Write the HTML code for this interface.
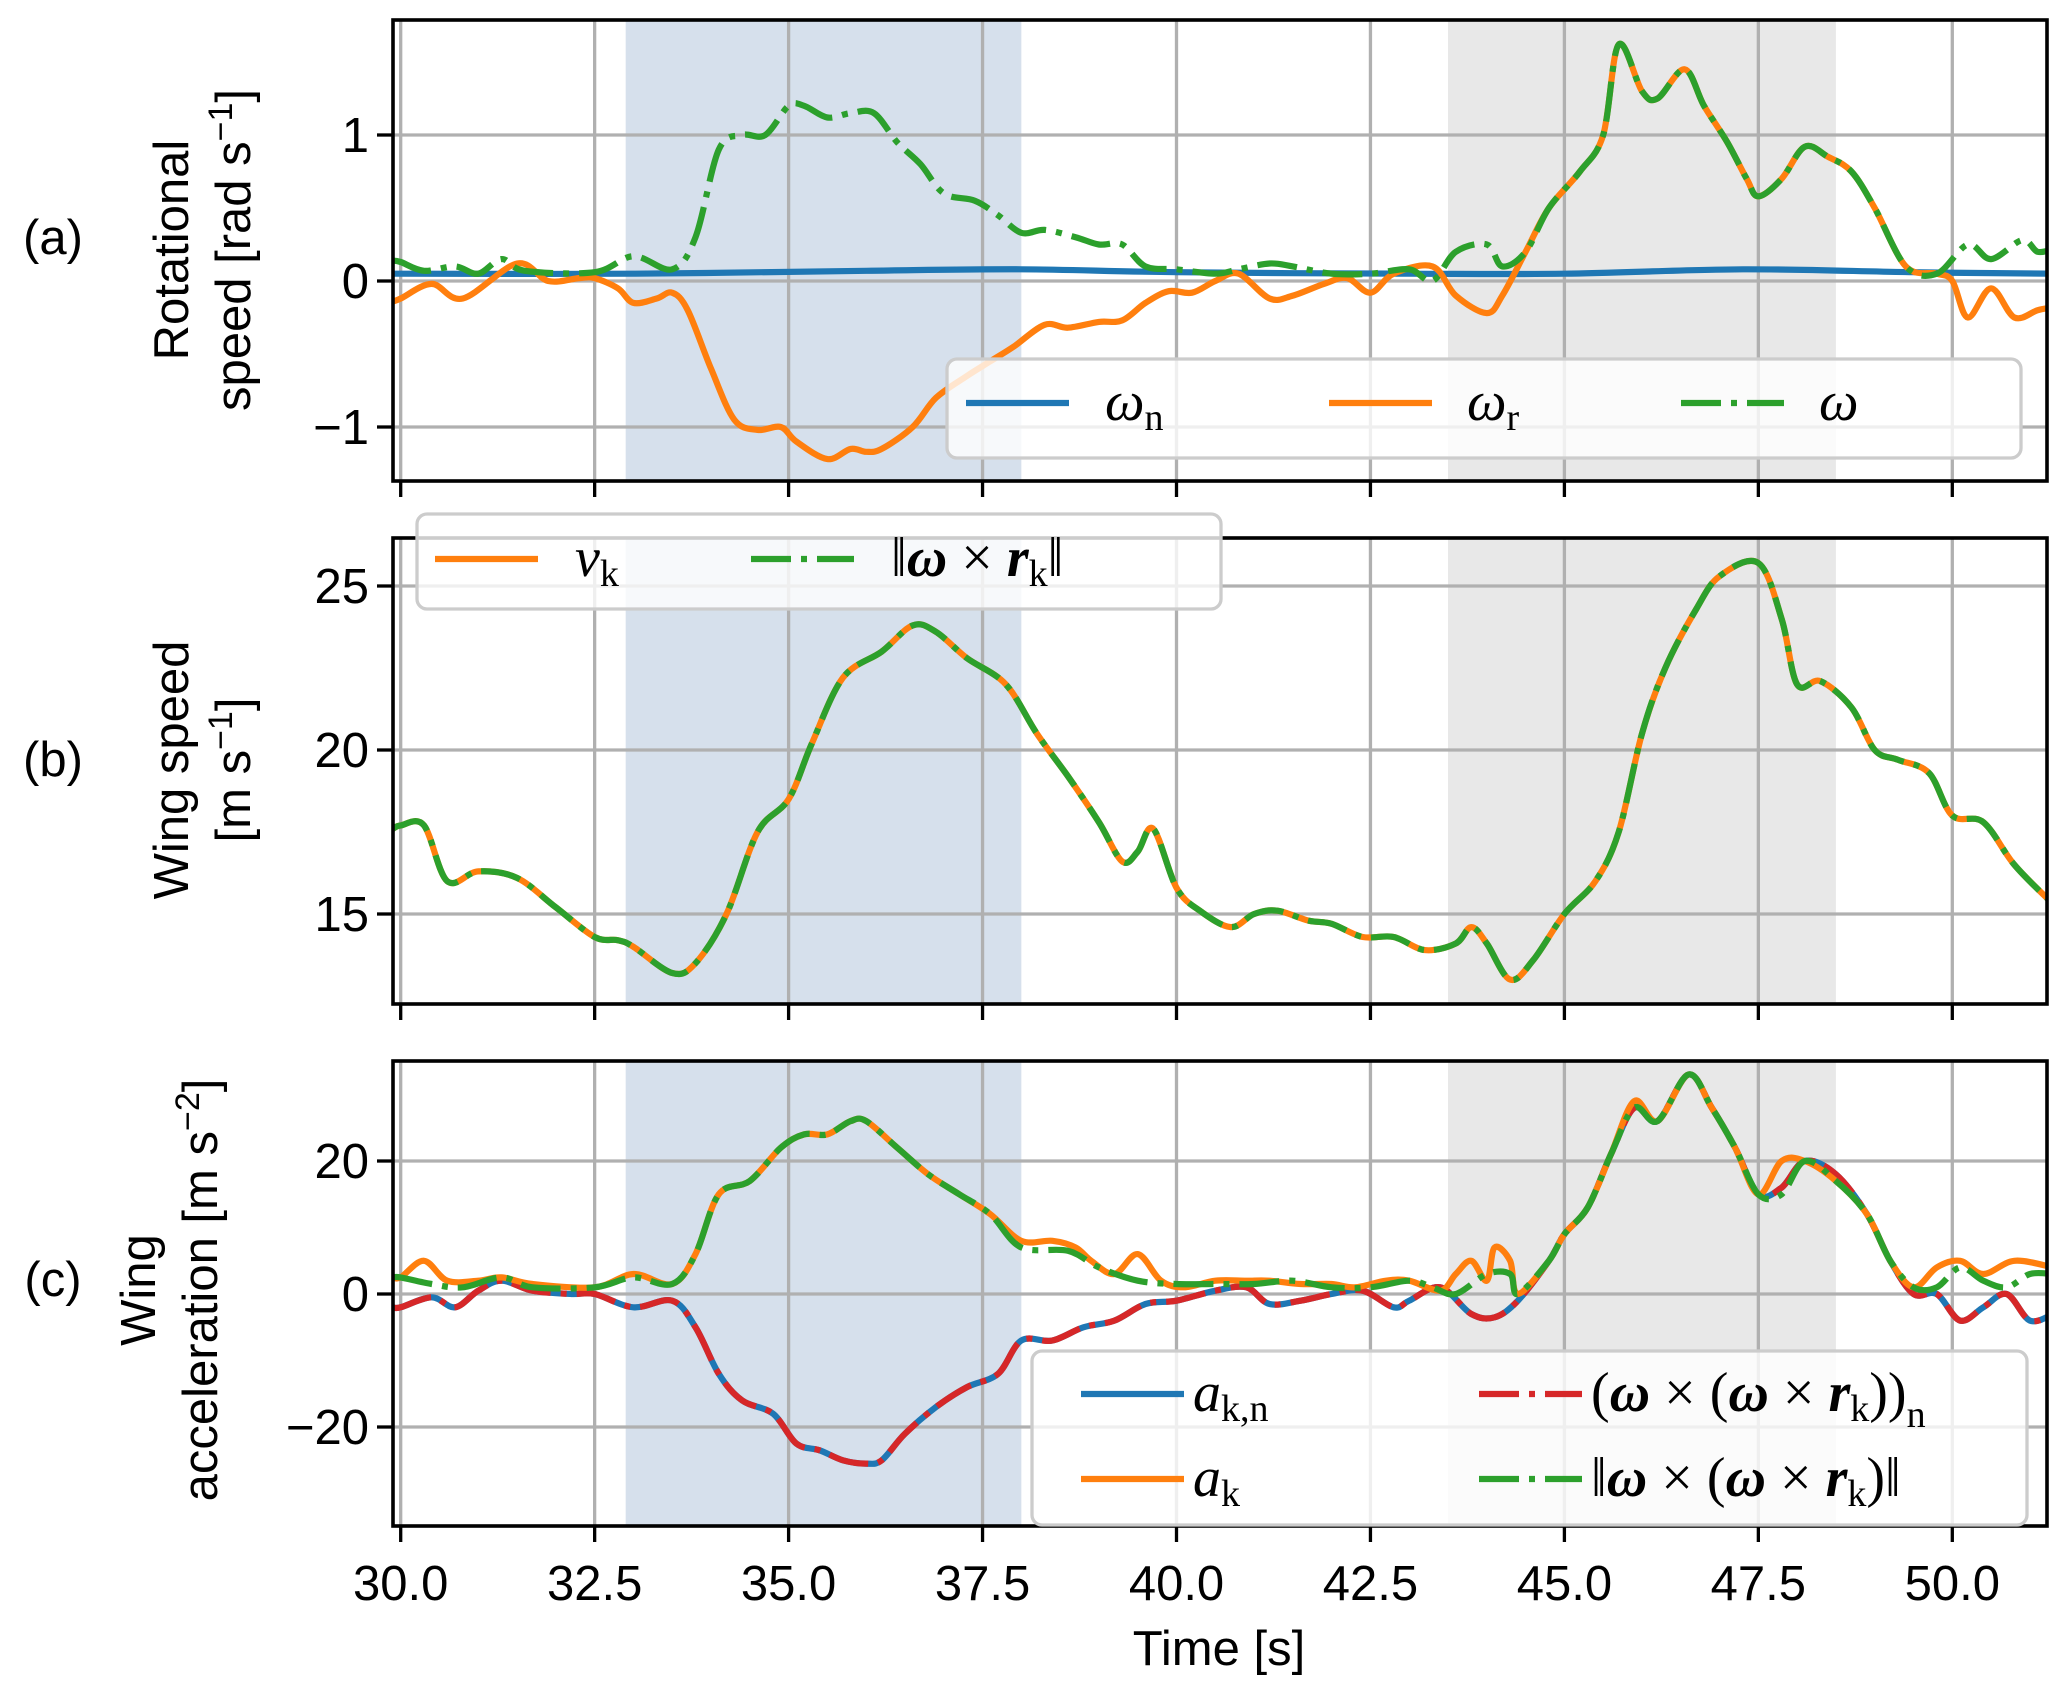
<!DOCTYPE html>
<html><head><meta charset="utf-8">
<style>
html,body{margin:0;padding:0;background:#fff;}
svg{display:block;font-family:"Liberation Sans",sans-serif;}
.tick{font-size:49px;fill:#000;}
.math{font-family:"Liberation Serif",serif;font-size:56px;}
</style></head>
<body>
<svg id="chart" width="2067" height="1691" viewBox="0 0 2067 1691" xmlns="http://www.w3.org/2000/svg">
</svg>
<script>
// ---------- data ----------
const xTicks = [30.0, 32.5, 35.0, 37.5, 40.0, 42.5, 45.0, 47.5, 50.0];
const xTickLabels = ["30.0","32.5","35.0","37.5","40.0","42.5","45.0","47.5","50.0"];
const blueSpan = [32.9, 38.0];
const graySpan = [43.5, 48.5];

const aTicks = [-1, 0, 1];
const aTickLabels = ["\u22121","0","1"];
const omegaNT = [29.9,33,36,38,40,43,45,47.3,49.5,51.3];
const omegaN  = [0.05,0.05,0.07,0.08,0.06,0.05,0.05,0.08,0.06,0.05];
const omegaRT = [29.9,30.0,30.4,30.8,31.5,31.9,32.3,32.5,32.8,33.0,33.3,33.5,33.7,34.0,34.3,34.6,34.9,35.1,35.5,35.8,36.0,36.2,36.6,36.9,37.3,37.6,37.9,38.3,38.6,39.0,39.3,39.6,39.9,40.2,40.5,40.8,41.2,41.5,41.9,42.2,42.5,42.8,43.3,43.6,44.0,44.2,44.5,44.8,45.2,45.5,45.7,46.0,46.2,46.55,46.8,47.1,47.35,47.5,47.8,48.1,48.4,48.7,49.0,49.4,49.8,50.0,50.2,50.5,50.8,51.1,51.3];
const omegaR  = [-0.14,-0.12,-0.02,-0.12,0.12,0.0,0.02,0.02,-0.05,-0.15,-0.12,-0.08,-0.2,-0.6,-0.95,-1.02,-1.0,-1.1,-1.22,-1.15,-1.17,-1.15,-1.0,-0.8,-0.65,-0.55,-0.45,-0.3,-0.32,-0.28,-0.27,-0.15,-0.07,-0.08,0.0,0.05,-0.12,-0.1,-0.02,0.02,-0.08,0.05,0.1,-0.1,-0.22,-0.1,0.2,0.5,0.75,1.0,1.62,1.3,1.25,1.45,1.2,0.95,0.7,0.58,0.7,0.92,0.85,0.75,0.5,0.1,0.05,0.0,-0.25,-0.05,-0.25,-0.2,-0.18];
const omegaT  = [29.9,30.0,30.3,30.7,31.0,31.3,31.6,32.5,33.0,33.5,33.8,34.1,34.4,34.7,35.0,35.2,35.5,35.8,36.1,36.4,36.7,37.0,37.4,37.7,38.0,38.3,38.7,39.0,39.3,39.6,40.0,40.5,40.8,41.2,41.5,42.0,42.5,43.0,43.3,43.6,44.0,44.2,44.5,44.8,45.2,45.5,45.7,46.0,46.2,46.55,46.8,47.1,47.35,47.5,47.8,48.1,48.4,48.7,49.0,49.4,49.8,50.2,50.5,50.9,51.1,51.3];
const omega   = [0.14,0.13,0.07,0.1,0.05,0.15,0.07,0.06,0.17,0.08,0.3,0.9,1.0,1.0,1.2,1.2,1.12,1.15,1.15,0.95,0.8,0.6,0.55,0.45,0.33,0.35,0.3,0.25,0.25,0.1,0.08,0.05,0.08,0.12,0.1,0.05,0.05,0.08,0.0,0.2,0.25,0.1,0.2,0.5,0.75,1.0,1.62,1.3,1.25,1.45,1.2,0.95,0.7,0.58,0.7,0.92,0.85,0.75,0.5,0.1,0.05,0.25,0.15,0.28,0.2,0.22];

const bTicks = [15, 20, 25];
const bTickLabels = ["15","20","25"];
const vkT = [29.9,30.0,30.3,30.6,31.0,31.5,32.0,32.5,32.8,33.0,33.5,33.8,34.2,34.6,35.0,35.3,35.7,36.2,36.6,36.9,37.3,37.8,38.2,38.6,39.0,39.3,39.5,39.7,40.0,40.3,40.7,41.0,41.3,41.7,42.0,42.4,42.8,43.2,43.6,43.8,44.0,44.3,44.6,45.0,45.4,45.7,46.0,46.3,46.7,47.0,47.5,47.8,48.0,48.3,48.7,49.0,49.3,49.7,50.0,50.4,50.8,51.3];
const vk  = [17.6,17.7,17.7,16.0,16.3,16.1,15.2,14.3,14.2,14.0,13.2,13.5,15.0,17.5,18.5,20.2,22.2,23.0,23.8,23.6,22.8,22.0,20.5,19.2,17.8,16.6,16.9,17.6,15.8,15.1,14.6,15.0,15.1,14.8,14.7,14.3,14.3,13.9,14.1,14.6,14.1,13.0,13.6,15.0,16.0,17.5,20.5,22.5,24.3,25.3,25.7,24.0,22.0,22.1,21.3,20.0,19.7,19.3,18.0,17.8,16.5,15.3];

const cTicks = [-20, 0, 20];
const cTickLabels = ["\u221220","0","20"];
const aknT = [29.9,30.0,30.4,30.7,31.0,31.3,31.7,32.2,32.5,33.0,33.5,33.8,34.1,34.4,34.8,35.1,35.4,35.7,36.0,36.2,36.5,36.9,37.3,37.7,38.0,38.4,38.8,39.2,39.6,40.0,40.5,40.9,41.2,41.6,42.0,42.4,42.8,43.0,43.4,43.8,44.1,44.4,44.8,45.0,45.3,45.6,45.9,46.2,46.6,46.9,47.2,47.5,47.8,48.1,48.5,48.9,49.2,49.5,49.8,50.1,50.4,50.7,51.0,51.3];
const akn  = [-2,-2,-0.5,-2,0.5,2,0.5,0,0,-2,-1,-5,-12,-16,-18,-22.5,-23.5,-25,-25.5,-25,-21,-17,-14,-12,-7,-7,-5,-4,-1.5,-1,0.5,1,-1.5,-1,0,0.5,-2,-1,1,-3,-3.5,-1,5,9,13,21,28,26,33,28,22,15,16,20,18,12,5,0,0,-4,-2,0,-4,-3];
const akT = [29.9,30.0,30.3,30.6,31.0,31.3,31.7,32.5,33.0,33.5,33.8,34.1,34.5,34.9,35.2,35.5,35.8,36.0,36.4,36.8,37.2,37.6,38.0,38.4,38.7,38.9,39.2,39.5,39.8,40.1,40.5,40.9,41.2,41.6,42.0,42.3,42.7,43.0,43.4,43.6,43.8,44.0,44.1,44.3,44.4,44.8,45.0,45.3,45.6,45.9,46.2,46.6,46.9,47.2,47.5,47.8,48.1,48.5,48.9,49.2,49.5,49.8,50.1,50.4,50.8,51.3];
const ak  = [2.5,2.5,5,2,2,2.5,1.5,1,3,1.5,6,15,17,22,24,24,26,26,22,18,15,12,8,8,7,5,3,6,2,1,2,2,2,1.5,1.5,1,2,2,0.5,3,5,2,7,5,0,5,9,13,21,29,26,33,28,22,15,20,20,17,12,5,1,4,5,3,5,4];
const awT = [29.9,30.0,30.4,30.8,31.3,31.7,32.5,33.0,33.5,33.8,34.1,34.5,34.9,35.2,35.5,35.8,36.0,36.4,36.8,37.2,37.6,38.0,38.6,39.0,39.5,40.0,40.5,41.0,41.5,42.0,42.5,43.0,43.3,43.6,44.0,44.3,44.4,44.8,45.0,45.3,45.6,45.9,46.2,46.6,46.9,47.2,47.5,47.8,48.1,48.5,48.9,49.2,49.5,49.8,50.1,50.4,50.7,51.0,51.3];
const aw  = [2.5,2.5,1.5,1,2.5,1,1,2.5,1.5,6,15,17,22,24,24,26,26,22,18,15,12,7,6.5,4,2,1.5,1.5,1.5,2,1,1,2,1,0,3,3,0,5,9,13,21,28,26,33,28,22,15,15,20,17,12,5,1,1,4,2,1,3,3];

// ---------- layout ----------
const X0 = 400.7, XS = 77.58;
const xS = t => X0 + (t - 30) * XS;
const L = 393, R = 2047;
const panels = {
  a: {top:20, bot:481, y:v => 281 - v*146},
  b: {top:538, bot:1004, y:v => 750 - (v-20)*32.8},
  c: {top:1061, bot:1526, y:v => 1294 - v*6.65}
};
const C = {blue:"#1f77b4", orange:"#ff7f0e", green:"#2ca02c", red:"#d62728"};
const LW = 6.2;
const DD = "40,10,6,10";
const svg = document.getElementById("chart");
const NS = "http://www.w3.org/2000/svg";
function mk(tag, attrs, parent){
  const e = document.createElementNS(NS, tag);
  for (const k in attrs) e.setAttribute(k, attrs[k]);
  (parent||svg).appendChild(e); return e;
}
function pathD(ts, vs, yf){
  const p = ts.map((t,i)=>[xS(t), yf(vs[i])]);
  let d = "M"+p[0][0].toFixed(1)+","+p[0][1].toFixed(1);
  for (let i=0;i<p.length-1;i++){
    const p0=p[Math.max(i-1,0)], p1=p[i], p2=p[i+1], p3=p[Math.min(i+2,p.length-1)];
    const c1=[p1[0]+(p2[0]-p0[0])/6, p1[1]+(p2[1]-p0[1])/6];
    const c2=[p2[0]-(p3[0]-p1[0])/6, p2[1]-(p3[1]-p1[1])/6];
    d+=" C"+c1.map(v=>v.toFixed(1)).join(",")+" "+c2.map(v=>v.toFixed(1)).join(",")+" "+p2.map(v=>v.toFixed(1)).join(",");
  }
  return d;
}

function drawPanel(key, yTicks, yLabels){
  const P = panels[key];
  const g = mk("g", {});
  
  
  const clipId = "clip"+key;
  const cp = mk("clipPath", {id:clipId}, g);
  mk("rect", {x:L, y:P.top, width:R-L, height:P.bot-P.top}, cp);
  const sb = mk("rect", {x:xS(blueSpan[0]), y:P.top, width:xS(blueSpan[1])-xS(blueSpan[0]), height:P.bot-P.top, fill:"#d6e0ec"}, g);
  
  
  const sg = mk("rect", {x:xS(graySpan[0]), y:P.top, width:xS(graySpan[1])-xS(graySpan[0]), height:P.bot-P.top, fill:"#e8e8e8"}, g);
  
  
  xTicks.forEach((t)=>{
    const gl = mk("line", {x1:xS(t), x2:xS(t), y1:P.top, y2:P.bot, stroke:"#b0b0b0", "stroke-width":3.3}, g);
    
    
    const tk = mk("line", {x1:xS(t), x2:xS(t), y1:P.bot, y2:P.bot+16, stroke:"#000", "stroke-width":3.3}, g);
    
    
  });
  yTicks.forEach((v,i)=>{
    const y = P.y(v);
    const gl = mk("line", {x1:L, x2:R, y1:y, y2:y, stroke:"#b0b0b0", "stroke-width":3.3}, g);
    
    
    const tk = mk("line", {x1:L-16, x2:L, y1:y, y2:y, stroke:"#000", "stroke-width":3.3}, g);
    
    
    const tl = mk("text", {x:L-24, y:y+17, "text-anchor":"end", class:"tick"}, g);
    tl.textContent = yLabels[i];
    
    
  });
  const lines = mk("g", {"clip-path":"url(#"+clipId+")"}, g);
  return {g, lines, P};
}
function series(parent, ts, vs, yf, color, dash, name){
  const a = {d:pathD(ts,vs,yf), fill:"none", stroke:color, "stroke-width":LW, "stroke-linejoin":"round"};
  if (dash) a["stroke-dasharray"] = dash;
  const p = mk("path", a, parent);
  
  
  return p;
}
function frame(g,P){
  const f = mk("rect", {x:L, y:P.top, width:R-L, height:P.bot-P.top, fill:"none", stroke:"#000", "stroke-width":3.6}, g);
  
  
}
function legendBox(x,y,w,h,name){
  const r = mk("rect", {x:x, y:y, width:w, height:h, rx:10, fill:"rgba(255,255,255,0.8)", stroke:"#cccccc", "stroke-width":3.3});
  
  
}
function legLine(x,y,color,dash,name){
  const a = {x1:x, x2:x+103, y1:y, y2:y, stroke:color, "stroke-width":LW};
  if (dash) a["stroke-dasharray"]=dash;
  const l = mk("line", a);
  
  
}
function legText(x,y,html,name){
  const t = mk("text", {x:x, y:y, class:"math"});
  t.innerHTML = html;
  
  
}

// Panel a
let A = drawPanel("a", aTicks, aTickLabels);
series(A.lines, omegaNT, omegaN, A.P.y, C.blue, null, "omega-n-line");
series(A.lines, omegaRT, omegaR, A.P.y, C.orange, null, "omega-r-line");
series(A.lines, omegaT, omega, A.P.y, C.green, DD, "omega-line");
frame(A.g, A.P);
// Panel b
let B = drawPanel("b", bTicks, bTickLabels);
series(B.lines, vkT, vk, B.P.y, C.orange, null, "vk-line");
series(B.lines, vkT, vk, B.P.y, C.green, DD, "omega-cross-r-line");
frame(B.g, B.P);
// Panel c
let Cc = drawPanel("c", cTicks, cTickLabels);
series(Cc.lines, aknT, akn, Cc.P.y, C.blue, null, "akn-line");
series(Cc.lines, aknT, akn, Cc.P.y, C.red, DD, "centripetal-normal-line");
series(Cc.lines, akT, ak, Cc.P.y, C.orange, null, "ak-line");
series(Cc.lines, awT, aw, Cc.P.y, C.green, DD, "centripetal-norm-line");
frame(Cc.g, Cc.P);

// x tick labels (bottom panel)
xTicks.forEach((t,i)=>{
  const tl = mk("text", {x:xS(t), y:1600, "text-anchor":"middle", class:"tick"});
  tl.textContent = xTickLabels[i];
  
  
});

// Legends
legendBox(947,359,1074,99,"legend-a");
legLine(966,403,C.blue,null,"legend-omega-n-swatch"); legText(1105,420,'<tspan font-style="italic">ω</tspan><tspan font-size="38" dy="10">n</tspan>',"legend-omega-n-label");
legLine(1329,403,C.orange,null,"legend-omega-r-swatch"); legText(1467,420,'<tspan font-style="italic">ω</tspan><tspan font-size="38" dy="10">r</tspan>',"legend-omega-r-label");
legLine(1681,403,C.green,DD,"legend-omega-swatch"); legText(1819,420,'<tspan font-style="italic">ω</tspan>',"legend-omega-label");

legendBox(417,514,804,95,"legend-b");
legLine(435,559,C.orange,null,"legend-vk-swatch"); legText(575,576,'<tspan font-style="italic">v</tspan><tspan font-size="38" dy="10">k</tspan>',"legend-vk-label");
legLine(751,559,C.green,DD,"legend-omega-cross-r-swatch"); legText(891,576,'‖<tspan font-weight="bold" font-style="italic">ω</tspan> × <tspan font-weight="bold" font-style="italic">r</tspan><tspan font-size="38" dy="10">k</tspan><tspan dy="-10">‖</tspan>',"legend-omega-cross-r-label");

legendBox(1032,1351,995,174,"legend-c");
legLine(1081,1394,C.blue,null,"legend-akn-swatch"); legText(1193,1411,'<tspan font-style="italic">a</tspan><tspan font-size="38" dy="10">k,n</tspan>',"legend-akn-label");
legLine(1081,1479,C.orange,null,"legend-ak-swatch"); legText(1193,1496,'<tspan font-style="italic">a</tspan><tspan font-size="38" dy="10">k</tspan>',"legend-ak-label");
legLine(1479,1394,C.red,DD,"legend-centripetal-normal-swatch"); legText(1591,1411,'(<tspan font-weight="bold" font-style="italic">ω</tspan> × (<tspan font-weight="bold" font-style="italic">ω</tspan> × <tspan font-weight="bold" font-style="italic">r</tspan><tspan font-size="38" dy="10">k</tspan><tspan dy="-10">))</tspan><tspan font-size="38" dy="16">n</tspan>',"legend-centripetal-normal-label");
legLine(1479,1479,C.green,DD,"legend-centripetal-norm-swatch"); legText(1591,1496,'‖<tspan font-weight="bold" font-style="italic">ω</tspan> × (<tspan font-weight="bold" font-style="italic">ω</tspan> × <tspan font-weight="bold" font-style="italic">r</tspan><tspan font-size="38" dy="10">k</tspan><tspan dy="-10">)‖</tspan>',"legend-centripetal-norm-label");

// Labels
function label(x,y,txt,name,rot){
  const t = mk("text", {x:x, y:y, "text-anchor":"middle", "font-size":"49"});
  if (rot) t.setAttribute("transform","rotate(-90 "+x+" "+y+")");
  t.innerHTML = txt;
  
  
}
label(53,254,"(a)","panel-a-label");
label(53,776,"(b)","panel-b-label");
label(53,1296,"(c)","panel-c-label");
label(188,250,"Rotational","y-axis-title-a-line1",true);
label(250,250,'speed [rad s<tspan font-size="34" dy="-18">−1</tspan><tspan dy="18">]</tspan>',"y-axis-title-a-line2",true);
label(188,770,"Wing speed","y-axis-title-b-line1",true);
label(250,770,'[m s<tspan font-size="34" dy="-18">−1</tspan><tspan dy="18">]</tspan>',"y-axis-title-b-line2",true);
label(155,1290,"Wing","y-axis-title-c-line1",true);
label(217,1290,'acceleration [m s<tspan font-size="34" dy="-18">−2</tspan><tspan dy="18">]</tspan>',"y-axis-title-c-line2",true);
label(1219,1665,"Time [s]","x-axis-title");
</script>
</body></html>
